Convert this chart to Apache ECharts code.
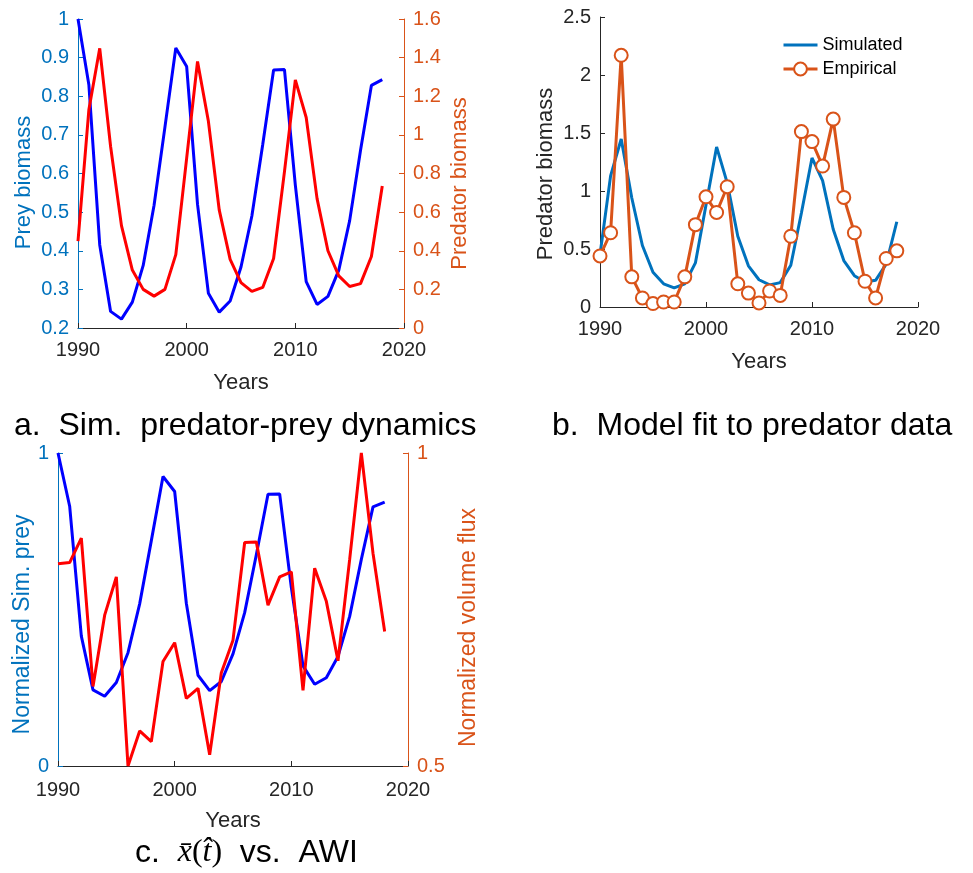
<!DOCTYPE html>
<html>
<head>
<meta charset="utf-8">
<script src="https://cdn.jsdelivr.net/npm/echarts@6/dist/echarts.min.js"></script>
<style>
  html, body { margin: 0; padding: 0; background: #fff; }
  #main { width: 973px; height: 873px; }
</style>
</head>
<body>
<div id="main"></div>
<script>
// years 1990..2018
const years = [1990, 1991, 1992, 1993, 1994, 1995, 1996, 1997, 1998, 1999,
  2000, 2001, 2002, 2003, 2004, 2005, 2006, 2007, 2008, 2009,
  2010, 2011, 2012, 2013, 2014, 2015, 2016, 2017, 2018]

// simulated prey biomass (max is 1, so it is also the normalized prey of panel c)
const preySim = [1.0, 0.83, 0.415, 0.243, 0.223, 0.267, 0.362, 0.518, 0.72, 0.925,
  0.877, 0.52, 0.29, 0.241, 0.27, 0.358, 0.49, 0.675, 0.868, 0.869,
  0.57, 0.32, 0.261, 0.282, 0.35, 0.478, 0.66, 0.828, 0.843]

// simulated predator biomass
const predSim = [0.45, 1.13, 1.448, 0.94, 0.53, 0.30, 0.20, 0.165, 0.20, 0.38,
  0.88, 1.38, 1.07, 0.61, 0.355, 0.235, 0.19, 0.21, 0.36, 0.81,
  1.285, 1.09, 0.67, 0.40, 0.27, 0.215, 0.23, 0.37, 0.735]

// empirical predator biomass
const predEmp = [0.44, 0.64, 2.17, 0.26, 0.078, 0.03, 0.043, 0.043, 0.26, 0.71,
  0.95, 0.815, 1.037, 0.20, 0.12, 0.035, 0.138, 0.10, 0.61, 1.512,
  1.426, 1.215, 1.62, 0.945, 0.64, 0.222, 0.078, 0.418, 0.484]

// normalized volume flux (AWI)
const volFlux = [0.823, 0.825, 0.864, 0.627, 0.741, 0.802, 0.50, 0.556, 0.539, 0.667,
  0.697, 0.608, 0.624, 0.518, 0.649, 0.701, 0.857, 0.858, 0.757, 0.802,
  0.81, 0.621, 0.816, 0.763, 0.668, 0.83, 1.0, 0.84, 0.715]

const yearTicks = [1990, 2000, 2010, 2020]

const BLUE = '#0072BD'
const ORANGE = '#D95319'
const DARK = '#262626'
const FONT = "'Liberation Sans', Arial, Helvetica, sans-serif"
const SERIF = "'Liberation Serif', 'DejaVu Serif', serif"

function pairs(ys) {
  return years.map((y, i) => [y, ys[i]])
}

function xAxis(gridIndex, labelMargin) {
  return {
    type: 'value',
    gridIndex: gridIndex,
    min: yearTicks[0],
    max: yearTicks[yearTicks.length - 1],
    interval: 10,
    name: 'Years',
    nameLocation: 'middle',
    nameGap: 44,
    nameTextStyle: { color: DARK, fontSize: 22, fontFamily: FONT },
    axisLine: { lineStyle: { color: DARK, width: 1 } },
    axisTick: { inside: true, length: 5, lineStyle: { color: DARK } },
    axisLabel: {
      color: DARK, fontSize: 20, fontFamily: FONT, margin: labelMargin,
      formatter: v => String(v)
    },
    splitLine: { show: false }
  }
}

function yAxis(gridIndex, pos, min, max, interval, color, name, gap, shift, nameSize) {
  return {
    type: 'value',
    gridIndex: gridIndex,
    position: pos,
    min: min,
    max: max,
    interval: interval,
    name: name,
    nameLocation: 'middle',
    nameRotate: 90,
    nameGap: gap,
    nameTextStyle: {
      color: color, fontSize: nameSize || 22, fontFamily: FONT,
      padding: [0, shift * 2, 0, 0]
    },
    axisLine: { show: true, lineStyle: { color: color, width: 1 } },
    axisTick: { show: true, inside: true, length: 5, lineStyle: { color: color } },
    axisLabel: { color: color, fontSize: 20, fontFamily: FONT, margin: 9 },
    splitLine: { show: false }
  }
}

const captionStyle = { fontSize: 32, fontWeight: 'normal', color: '#000', fontFamily: FONT }

const option = {
  backgroundColor: '#fff',
  animation: false,
  textStyle: { fontFamily: FONT },
  title: [
    { text: 'a.  Sim.  predator-prey dynamics', left: 9, top: 405, textStyle: captionStyle },
    { text: 'b.  Model fit to predator data', left: 547, top: 405, textStyle: captionStyle },
    {
      text: '{rm|c.  }{it|x\u0304}{par|(}{it|t\u0302}{par|)}{rm|  vs.  AWI}',
      left: 130, top: 832,
      textStyle: {
        fontWeight: 'normal',
        rich: {
          rm: { fontSize: 32, fontWeight: 'normal', color: '#000', fontFamily: FONT },
          it: { fontSize: 32, fontWeight: 'normal', color: '#000', fontStyle: 'italic', fontFamily: SERIF },
          par: { fontSize: 32, fontWeight: 'normal', color: '#000', fontFamily: SERIF }
        }
      }
    }
  ],
  legend: {
    data: [
      { name: 'Simulated', itemStyle: { opacity: 0 } },
      { name: 'Empirical' }
    ],
    orient: 'vertical',
    left: 777,
    top: 31,
    itemWidth: 34,
    itemHeight: 16,
    itemGap: 6,
    lineStyle: { width: 3 },
    textStyle: { fontSize: 18, color: '#000', fontFamily: FONT }
  },
  grid: [
    { left: 78, top: 19, width: 326, height: 309 },
    { left: 600, top: 17, width: 318, height: 290 },
    { left: 58, top: 453, width: 350, height: 313 }
  ],
  xAxis: [xAxis(0, 12), xAxis(1, 12), xAxis(2, 14)],
  yAxis: [
    yAxis(0, 'left', 0.2, 1, 0.1, BLUE, 'Prey biomass', 43, 9),
    yAxis(0, 'right', 0, 1.6, 0.2, ORANGE, 'Predator biomass', 45, 10),
    yAxis(1, 'left', 0, 2.5, 0.5, DARK, 'Predator biomass', 43, 12),
    yAxis(2, 'left', 0, 1, 1, BLUE, 'Normalized Sim. prey', 24, 15, 23),
    yAxis(2, 'right', 0.5, 1, 0.5, ORANGE, 'Normalized volume flux', 49, 18, 23)
  ],
  series: [
    {
      name: 'Prey', type: 'line', xAxisIndex: 0, yAxisIndex: 0,
      data: pairs(preySim), symbol: 'none',
      lineStyle: { color: '#0000FF', width: 3 }
    },
    {
      name: 'Predator', type: 'line', xAxisIndex: 0, yAxisIndex: 1,
      data: pairs(predSim), symbol: 'none',
      lineStyle: { color: '#FF0000', width: 3 }
    },
    {
      name: 'Simulated', type: 'line', xAxisIndex: 1, yAxisIndex: 2,
      data: pairs(predSim), symbol: 'none',
      itemStyle: { color: BLUE },
      lineStyle: { color: BLUE, width: 3 }
    },
    {
      name: 'Empirical', type: 'line', xAxisIndex: 1, yAxisIndex: 2,
      data: pairs(predEmp), symbol: 'emptyCircle', symbolSize: 13,
      itemStyle: { color: ORANGE, borderColor: ORANGE, borderWidth: 3 },
      lineStyle: { color: ORANGE, width: 3 }
    },
    {
      name: 'Normalized prey', type: 'line', xAxisIndex: 2, yAxisIndex: 3,
      data: pairs(preySim), symbol: 'none',
      lineStyle: { color: '#0000FF', width: 3 }
    },
    {
      name: 'Volume flux', type: 'line', xAxisIndex: 2, yAxisIndex: 4,
      data: pairs(volFlux), symbol: 'none',
      lineStyle: { color: '#FF0000', width: 3 }
    }
  ]
}

const chart = echarts.init(document.getElementById('main'), null, { renderer: 'canvas' })
chart.setOption(option)
window.addEventListener('resize', () => chart.resize())
</script>
</body>
</html>
